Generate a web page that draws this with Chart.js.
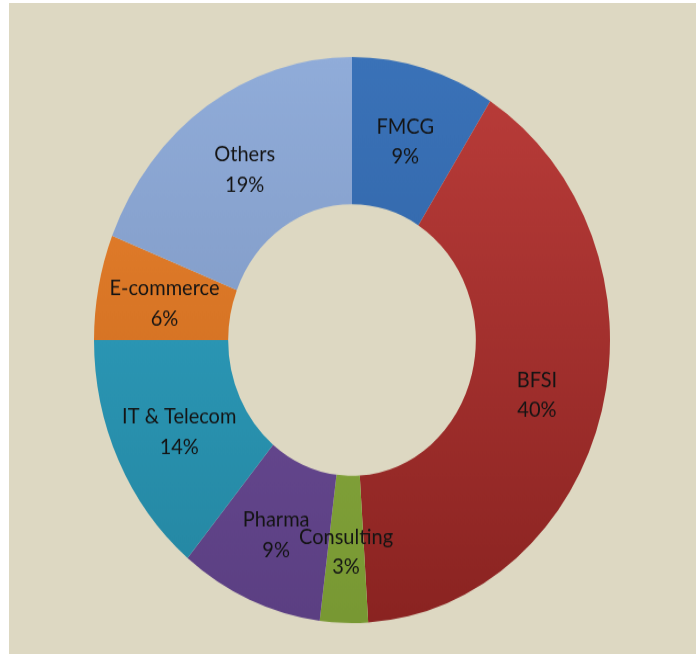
<!DOCTYPE html>
<html>
<head>
<meta charset="utf-8">
<script src="https://cdn.jsdelivr.net/npm/chart.js@4.4.1/dist/chart.umd.min.js"></script>
<style>
    html, body {
        margin: 0;
        padding: 0;
        background: #ffffff;
        width: 696px;
        height: 654px;
        overflow: hidden;
    }
    #panel {
        position: absolute;
        left: 9px;
        top: 3px;
        width: 687px;
        height: 651px;
        background: #ddd8c2;
    }
    #wrap {
        position: absolute;
        left: 73px;
        top: 67px;
        width: 540px;
        height: 540px;
        transform: scaleY(1.097);
        transform-origin: 50% 50%;
    }
</style>
</head>
<body>
<div id="panel">
    <div id="wrap"><canvas id="donutChart" width="540" height="540"></canvas></div>
</div>
<script>
const categories = ['FMCG', 'BFSI', 'Consulting', 'Pharma', 'IT & Telecom', 'E-commerce', 'Others'];
const shares = [9, 40, 3, 9, 14, 6, 19];
const lightColors = ['#3a72b8', '#bb3d3a', '#90b244', '#7353a0', '#30a5c6', '#ea822e', '#90acd9'];
const darkColors = ['#2b5c9b', '#8a2321', '#789833', '#5b3f82', '#2485a0', '#c4671c', '#768eb8'];

const Y_STRETCH = 1.097;

const canvas = document.getElementById('donutChart');

function sliceFill(context) {
    const chart = context.chart;
    const area = chart.chartArea;
    if (!area) return lightColors[context.dataIndex];
    const g = chart.ctx.createLinearGradient(0, area.top, 0, area.bottom);
    g.addColorStop(0, lightColors[context.dataIndex]);
    g.addColorStop(1, darkColors[context.dataIndex]);
    return g;
}

// draws the "name / percent" text in the middle of each slice,
// undoing the vertical stretch so the letters are not squashed
const sliceLabels = {
    id: 'sliceLabels',
    afterDatasetsDraw(chart) {
        const ctx = chart.ctx;
        const meta = chart.getDatasetMeta(0);
        ctx.save();
        ctx.fillStyle = '#141414';
        ctx.font = '20px Lato, "Open Sans", sans-serif';
        ctx.textAlign = 'center';
        ctx.textBaseline = 'middle';
        meta.data.forEach((arc, i) => {
            const pos = arc.tooltipPosition();
            ctx.save();
            ctx.translate(pos.x, pos.y + 3);
            ctx.scale(1, 1 / Y_STRETCH);
            ctx.fillText(categories[i], 0, -15);
            ctx.fillText(shares[i] + '%', 0, 15);
            ctx.restore();
        });
        ctx.restore();
    }
};

new Chart(canvas.getContext('2d'), {
    type: 'doughnut',
    data: {
        labels: categories,
        datasets: [{
            data: shares,
            backgroundColor: sliceFill,
            borderWidth: 0,
            hoverOffset: 0
        }]
    },
    options: {
        responsive: false,
        animation: false,
        cutout: '48%',
        layout: { padding: 12 },
        plugins: {
            legend: { display: false },
            tooltip: { enabled: false }
        }
    },
    plugins: [sliceLabels]
});
</script>
</body>
</html>
